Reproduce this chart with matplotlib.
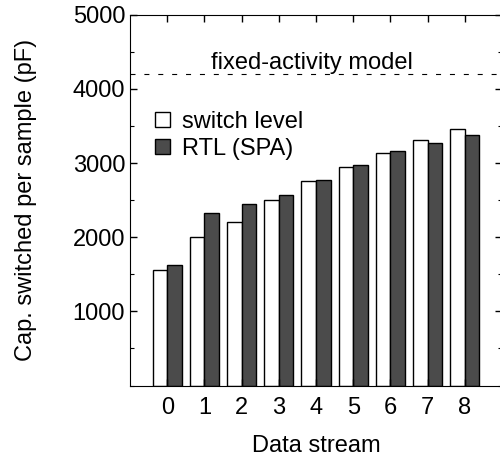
import numpy as np
import matplotlib
matplotlib.use("Agg")
import matplotlib.pyplot as plt
from matplotlib.ticker import MultipleLocator

plt.rcParams['font.family'] = ['Liberation Sans', 'DejaVu Sans']

# Daten
streams = [0, 1, 2, 3, 4, 5, 6, 7, 8]
switch_level = [1560, 2000, 2200, 2497, 2762, 2951, 3140, 3306, 3455]
rtl_spa = [1625, 2322, 2443, 2573, 2775, 2978, 3158, 3266, 3374]
fixed_model = 4196
y_ticks = [1000, 2000, 3000, 4000, 5000]

fs = 17
bw = 0.39
x = np.arange(len(streams))

fig = plt.figure(figsize=(5.0, 4.59), dpi=100)
ax = fig.add_axes([0.26, 0.160, 0.744, 0.808])

ax.bar(x - bw / 2, switch_level, bw, color='white', edgecolor='black', linewidth=1.0, label='switch level')
ax.bar(x + bw / 2, rtl_spa, bw, color='#4b4b4b', edgecolor='black', linewidth=1.0, label='RTL (SPA)')

ax.axhline(fixed_model, color='black', linewidth=0.8, dashes=(4.5, 8))
ax.text(3.9, 4350, 'fixed-activity model', ha='center', va='center', fontsize=fs)

ax.set_xlim(-1, 9)
ax.set_ylim(0, 5000)
ax.set_xticks(x)
ax.set_xticklabels([str(s) for s in streams])
ax.set_yticks(y_ticks)
ax.yaxis.set_minor_locator(MultipleLocator(500))
ax.tick_params(axis='both', which='both', direction='in', top=True, right=True, labelsize=fs)
ax.tick_params(axis='both', which='major', length=5, width=1)
ax.tick_params(axis='y', which='minor', length=3, width=0.8)
ax.tick_params(axis='x', which='major', pad=8)

ax.set_xlabel('Data stream', fontsize=fs, labelpad=12)
ax.set_ylabel('Cap. switched per sample (pF)', fontsize=fs, labelpad=26)

ax.legend(loc='upper left', bbox_to_anchor=(0.068, 0.74), frameon=False, fontsize=fs,
          handlelength=0.62, handleheight=0.62, handletextpad=0.5, borderpad=0,
          borderaxespad=0, labelspacing=0.2)

plt.savefig('out.png', dpi=100)
